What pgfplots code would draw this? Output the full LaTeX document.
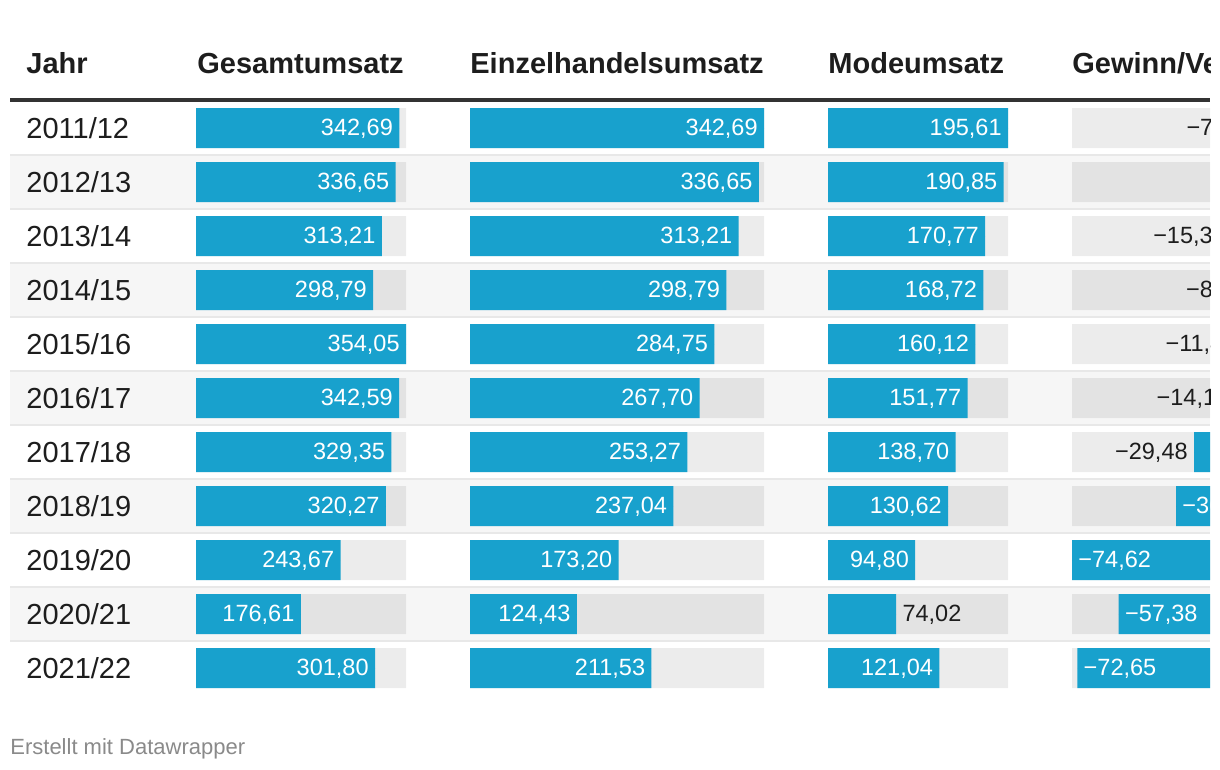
\documentclass[border=0pt]{standalone}
\usepackage{pgfplots}
\pgfplotsset{compat=1.18}
\usepackage{fontspec}
\setmainfont{Liberation Sans}
\definecolor{dwblue}{HTML}{18A1CD}
\definecolor{band}{HTML}{F6F6F6}
\definecolor{sepc}{HTML}{E8E8E8}
\definecolor{hdr}{HTML}{333333}
\definecolor{txt}{HTML}{1D1D1D}
\definecolor{foot}{HTML}{8A8A8A}
\newcommand{\vfont}{\fontsize{11.75pt}{14pt}\selectfont}
\newcommand{\rfont}{\fontsize{14.5pt}{17pt}\selectfont}
\pgfplotsset{
  cell/.style={scale only axis, hide axis, clip=false,
    height=297pt, ymin=0.5, ymax=11.5, y dir=reverse, anchor=north west},
  bg/.style={xbar, bar width=20pt, bar shift=0pt, draw=none, fill=black, fill opacity=0.075},
  fg/.style={xbar, bar width=20pt, bar shift=0pt, draw=none, fill=dwblue},
  lbl/.style={only marks, mark=*, mark size=0pt, mark options={draw=none,fill=none},
    point meta=explicit symbolic, nodes near coords={\pgfplotspointmeta}},
  lblinR/.style={lbl, nodes near coords align={anchor=east},
    nodes near coords style={anchor=east, xshift=-3pt, inner sep=0pt, text=white, font=\vfont, text height=0.716em, text depth=0pt}},
  lbloutR/.style={lbl, nodes near coords align={anchor=west},
    nodes near coords style={anchor=west, xshift=3pt, inner sep=0pt, text=txt, font=\vfont, text height=0.716em, text depth=0pt}},
  lblinL/.style={lbl, nodes near coords align={anchor=west},
    nodes near coords style={anchor=west, xshift=3pt, inner sep=0pt, text=white, font=\vfont, text height=0.716em, text depth=0pt}},
  lbloutL/.style={lbl, nodes near coords align={anchor=east},
    nodes near coords style={anchor=east, xshift=-3pt, inner sep=0pt, text=txt, font=\vfont, text height=0.716em, text depth=0pt}},
}
\begin{document}
\begin{tikzpicture}
\useasboundingbox (0,0) rectangle (610pt,-385pt);
\fill[white] (0,0) rectangle (610pt,-385pt);
\clip (0,0) rectangle (605pt,-385pt);
\begin{scope}[x=0.5pt,y=-0.5pt]
  % alternating row bands
  \foreach \c in {182,290,398,506,614} {
    \fill[band] (10,\c-27) rectangle (1210,\c+27);
  }
  % separators
  \foreach \c in {155,209,263,317,371,425,479,533,587,641} {
    \draw[sepc, line width=1pt] (10,\c) -- (1210,\c);
  }
  % header rule
  \draw[hdr, line width=2pt] (10,100) -- (1210,100);
  % headers
  \foreach \x/\t in {26/{Jahr}, 197/{Gesamtumsatz}, 470/{Einzelhandelsumsatz}, 828/{Modeumsatz}, 1072/{Gewinn/Verlust}} {
    \node[anchor=base west, inner sep=0pt, text=txt, font=\rfont\bfseries] at (\x,74) {\t};
  }
  % years
  \foreach \t [count=\i] in {2011/12,2012/13,2013/14,2014/15,2015/16,2016/17,2017/18,2018/19,2019/20,2020/21,2021/22} {
    \node[anchor=base west, inner sep=0pt, text=txt, font=\rfont] at (26,{128+54*(\i-1)+10.5}) {\t};
  }
  % footer
  \node[anchor=base west, inner sep=0pt, text=foot, font=\fontsize{11pt}{13pt}\selectfont] at (10,754) {Erstellt mit Datawrapper};
\end{scope}

% Gesamtumsatz
\begin{axis}[cell, at={(98pt,-50.5pt)}, width=105pt, xmin=0, xmax=354.05]
\addplot[bg] coordinates {(354.05,1) (354.05,2) (354.05,3) (354.05,4) (354.05,5) (354.05,6) (354.05,7) (354.05,8) (354.05,9) (354.05,10) (354.05,11)};
\addplot[fg] coordinates {(342.69,1) (336.65,2) (313.21,3) (298.79,4) (354.05,5) (342.59,6) (329.35,7) (320.27,8) (243.67,9) (176.61,10) (301.80,11)};
\addplot[lblinR] coordinates {(342.69,1) [342,69] (336.65,2) [336,65] (313.21,3) [313,21] (298.79,4) [298,79] (354.05,5) [354,05] (342.59,6) [342,59] (329.35,7) [329,35] (320.27,8) [320,27] (243.67,9) [243,67] (176.61,10) [176,61] (301.80,11) [301,80]};
\end{axis}

% Einzelhandelsumsatz
\begin{axis}[cell, at={(235pt,-50.5pt)}, width=147pt, xmin=0, xmax=342.69]
\addplot[bg] coordinates {(342.69,1) (342.69,2) (342.69,3) (342.69,4) (342.69,5) (342.69,6) (342.69,7) (342.69,8) (342.69,9) (342.69,10) (342.69,11)};
\addplot[fg] coordinates {(342.69,1) (336.65,2) (313.21,3) (298.79,4) (284.75,5) (267.70,6) (253.27,7) (237.04,8) (173.20,9) (124.43,10) (211.53,11)};
\addplot[lblinR] coordinates {(342.69,1) [342,69] (336.65,2) [336,65] (313.21,3) [313,21] (298.79,4) [298,79] (284.75,5) [284,75] (267.70,6) [267,70] (253.27,7) [253,27] (237.04,8) [237,04] (173.20,9) [173,20] (124.43,10) [124,43] (211.53,11) [211,53]};
\end{axis}

% Modeumsatz
\begin{axis}[cell, at={(414pt,-50.5pt)}, width=90pt, xmin=0, xmax=195.61]
\addplot[bg] coordinates {(195.61,1) (195.61,2) (195.61,3) (195.61,4) (195.61,5) (195.61,6) (195.61,7) (195.61,8) (195.61,9) (195.61,10) (195.61,11)};
\addplot[fg] coordinates {(195.61,1) (190.85,2) (170.77,3) (168.72,4) (160.12,5) (151.77,6) (138.70,7) (130.62,8) (94.80,9) (74.02,10) (121.04,11)};
\addplot[lblinR] coordinates {(195.61,1) [195,61] (190.85,2) [190,85] (170.77,3) [170,77] (168.72,4) [168,72] (160.12,5) [160,12] (151.77,6) [151,77] (138.70,7) [138,70] (130.62,8) [130,62] (94.80,9) [94,80] (121.04,11) [121,04]};
\addplot[lbloutR] coordinates {(74.02,10) [74,02]};
\end{axis}

% Gewinn/Verlust
\begin{axis}[cell, at={(536pt,-50.5pt)}, width=114.4pt, xmin=-74.62, xmax=10]
\addplot[bg] coordinates {(-74.62,1) (-74.62,2) (-74.62,3) (-74.62,4) (-74.62,5) (-74.62,6) (-74.62,7) (-74.62,8) (-74.62,9) (-74.62,10) (-74.62,11)};
\addplot[bg] coordinates {(10,1) (10,2) (10,3) (10,4) (10,5) (10,6) (10,7) (10,8) (10,9) (10,10) (10,11)};
\addplot[fg] coordinates {(-7.92,1) (2.50,2) (-15.38,3) (-8.04,4) (-11.45,5) (-14.12,6) (-29.48,7) (-36.14,8) (-74.62,9) (-57.38,10) (-72.65,11)};
\addplot[lbloutL] coordinates {(-7.92,1) [−7,92] (-15.38,3) [−15,38] (-8.04,4) [−8,04] (-11.45,5) [−11,45] (-14.12,6) [−14,12] (-29.48,7) [−29,48]};
\addplot[lbloutR] coordinates {(2.50,2) [2,50]};
\addplot[lblinL] coordinates {(-36.14,8) [−36,14] (-74.62,9) [−74,62] (-57.38,10) [−57,38] (-72.65,11) [−72,65]};
\end{axis}
\end{tikzpicture}
\end{document}
